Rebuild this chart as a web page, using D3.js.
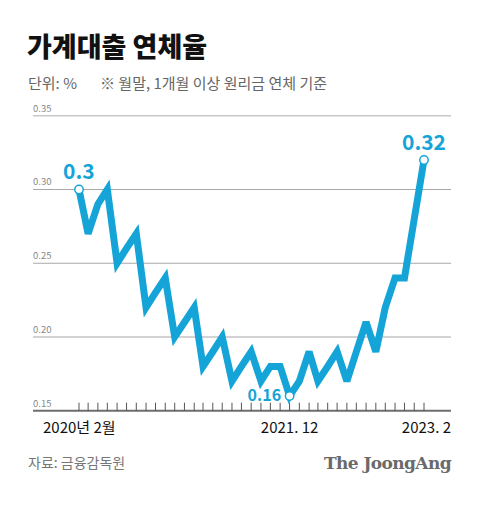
<!DOCTYPE html>
<meta charset="utf-8">
<html>
  <head>
    <script src="https://d3js.org/d3.v7.min.js"></script>
    <style>
      body { margin: 0; background: #fff; }
      text { font-family: "Noto Sans CJK KR", "Noto Sans", sans-serif; }
    </style>
  </head>
  <body>
    <div id="chart"></div>

    <script type="text/javascript">
      // monthly, 2020.2 .. 2023.2
      var months = d3.range(37).map(function (i) { return new Date(2020, 1 + i, 1); });
      var rates = [0.30, 0.27, 0.29, 0.30, 0.25, 0.26, 0.27, 0.22, 0.23, 0.24,
                   0.20, 0.21, 0.22, 0.18, 0.19, 0.20, 0.17, 0.18, 0.19, 0.17,
                   0.18, 0.18, 0.16, 0.17, 0.19, 0.17, 0.18, 0.19, 0.17, 0.19,
                   0.21, 0.19, 0.22, 0.24, 0.24, 0.28, 0.32];
      var yTicks = [0.15, 0.20, 0.25, 0.30, 0.35];
      var xLabels = [
        { i: 0, text: "2020년 2월", anchor: "start" },
        { i: 22, text: "2021. 12", anchor: "middle" },
        { i: 36, text: "2023. 2", anchor: "end" }
      ];
      var callouts = [
        { i: 0, text: "0.3", size: 21 },
        { i: 22, text: "0.16", size: 16 },
        { i: 36, text: "0.32", size: 21 }
      ];

      var width = 480, height = 510,
          left = 33, right = 451,
          blue = "#15a4d7";

      var svg = d3.select("#chart").append("svg")
          .attr("width", width)
          .attr("height", height);

      var x = d3.scaleTime()
          .domain([months[0], months[months.length - 1]])
          .range([79, 424]);

      var y = d3.scaleLinear()
          .domain([0.15, 0.35])
          .range([410.7, 115.7]);

      // title + notes
      svg.append("text").attr("x", 27).attr("y", 57)
          .text("가계대출 연체율")
          .style("font-size", "27px").style("font-weight", 900).style("fill", "#111");
      svg.append("text").attr("x", 28).attr("y", 89)
          .text("단위: %")
          .style("font-size", "15px").style("fill", "#666");
      svg.append("text").attr("x", 100).attr("y", 89)
          .text("※ 월말, 1개월 이상 원리금 연체 기준")
          .style("font-size", "15px").style("fill", "#666");

      // grid
      svg.selectAll(".grid")
          .data(yTicks.slice(1))
          .enter().append("line")
            .attr("x1", left).attr("x2", right)
            .attr("y1", function (d) { return y(d); })
            .attr("y2", function (d) { return y(d); })
            .style("stroke", function (d, i) { return i == 3 ? "#c8c8c8" : "#a8a8a8"; })
            .style("stroke-width", function (d, i) { return i == 3 ? 1.6 : 1.1; });

      svg.selectAll(".ylabel")
          .data(yTicks)
          .enter().append("text")
            .attr("x", left)
            .attr("y", function (d) { return y(d) - 4; })
            .text(function (d) { return d3.format(".2f")(d); })
            .style("font-size", "9.5px")
            .style("fill", "#888");

      // baseline + month ticks
      svg.append("line")
          .attr("x1", left).attr("x2", right)
          .attr("y1", y(0.15)).attr("y2", y(0.15))
          .style("stroke", "#6e6e6e").style("stroke-width", 2);

      svg.selectAll(".tick")
          .data(months)
          .enter().append("line")
            .attr("x1", function (d) { return x(d); })
            .attr("x2", function (d) { return x(d); })
            .attr("y1", y(0.15) - 8).attr("y2", y(0.15))
            .style("stroke", "#555").style("stroke-width", 1);

      svg.selectAll(".xlabel")
          .data(xLabels)
          .enter().append("text")
            .attr("x", function (d) { return d.anchor == "end" ? right : x(months[d.i]) + (d.anchor == "start" ? -36 : 0); })
            .attr("y", 433)
            .attr("text-anchor", function (d) { return d.anchor; })
            .text(function (d) { return d.text; })
            .style("font-size", "15px")
            .style("fill", "#111");

      // the line
      var line = d3.line()
          .x(function (d, i) { return x(months[i]); })
          .y(function (d) { return y(d); });

      svg.append("path")
          .datum(rates)
          .attr("d", line)
          .style("fill", "none")
          .style("stroke", blue)
          .style("stroke-width", 7)
          .style("stroke-linejoin", "miter")
          .style("stroke-miterlimit", 3);

      svg.selectAll(".dot")
          .data(callouts)
          .enter().append("circle")
            .attr("cx", function (d) { return x(months[d.i]); })
            .attr("cy", function (d) { return y(rates[d.i]); })
            .attr("r", 4.2)
            .style("fill", "#fff")
            .style("stroke", blue)
            .style("stroke-width", 1.5);

      svg.selectAll(".callout")
          .data(callouts)
          .enter().append("text")
            .attr("x", function (d) { return x(months[d.i]) + (d.i == 0 ? -16 : d.i == 22 ? -42 : 0); })
            .attr("y", function (d) { return y(rates[d.i]) + (d.i == 22 ? 5 : -10); })
            .attr("text-anchor", function (d) { return d.i == 36 ? "middle" : "start"; })
            .text(function (d) { return d.text; })
            .style("font-size", function (d) { return d.size + "px"; })
            .style("font-weight", 700)
            .style("fill", blue);

      // footer
      svg.append("text").attr("x", 28).attr("y", 468)
          .text("자료: 금융감독원")
          .style("font-size", "14px").style("fill", "#777");
      svg.append("text").attr("x", right).attr("y", 469)
          .attr("text-anchor", "end")
          .text("The JoongAng")
          .style("font-family", "'DejaVu Serif', 'Liberation Serif', serif")
          .style("font-size", "17px").style("font-weight", 700)
          .style("letter-spacing", "-0.6px")
          .style("fill", "#6a6a6a");
    </script>
  </body>
</html>
